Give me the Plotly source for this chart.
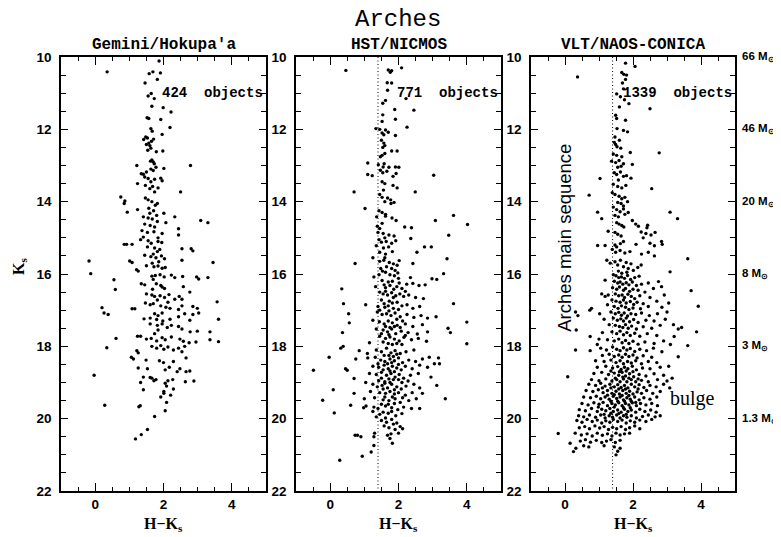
import plotly.graph_objects as go

# ---------------- data ----------------
panel_titles = ["Gemini/Hokupa'a", "HST/NICMOS", "VLT/NAOS-CONICA"]
object_counts = [424, 771, 1339]
x_ticks = [0, 2, 4]
y_ticks = [10, 12, 14, 16, 18, 20, 22]
mass_ks = [10, 12, 14, 16, 18, 20]
mass_labels = ["66", "46", "20", "8", "3", "1.3"]
sequence_cut_hk = 1.4

gemini_pts = [
(1.87,10.11),(0.35,10.41),(1.69,10.41),(1.58,10.46),(1.91,10.44),(1.82,10.62),(1.46,10.72),(1.64,11.01),(1.55,11.08),(1.73,11.15),
(1.66,11.36),(1.99,11.40),(2.22,11.52),(1.52,11.68),(1.57,11.70),(1.92,11.73),(2.19,11.95),(1.63,11.98),(1.67,12.05),(1.96,12.14),
(1.48,12.21),(1.42,12.28),(1.53,12.24),(1.57,12.38),(1.65,12.33),(1.71,12.27),(1.50,12.42),(1.60,12.45),(1.63,12.52),(1.54,12.58),
(1.79,12.62),(1.98,12.60),(1.66,12.85),(1.70,12.90),(1.73,12.95),(1.62,12.88),
(1.22,13.00),(2.79,13.00),(1.78,13.05),(1.63,13.10),(2.01,13.08),(1.70,13.14),(1.50,13.18),(1.35,13.23),(1.41,13.24),(1.45,13.32),
(1.55,13.36),(1.74,13.38),(1.92,13.35),(1.96,13.42),(1.63,13.45),(1.24,13.50),(1.47,13.55),(1.68,13.58),(1.84,13.62),(1.60,13.64),
(2.50,13.73),(1.74,13.73),
(0.75,13.87),(0.87,13.98),(0.85,14.05),(0.94,14.29),(1.24,14.22),(1.47,13.90),(1.55,13.95),(1.66,14.00),(1.82,14.05),(1.76,14.10),
(1.57,14.18),(1.71,14.25),(1.60,14.32),(1.80,14.38),(2.01,14.32),(1.41,14.42),(1.55,14.45),(1.67,14.48),(2.33,14.42),(3.09,14.52),(3.30,14.58),
(1.82,14.55),(2.07,14.58),(1.45,14.62),(1.61,14.66),(1.74,14.70),(2.44,14.75),(1.37,14.80),(1.53,14.85),(1.72,14.83),(1.96,14.88),
(2.44,14.92),(1.41,14.98),(1.84,15.00),(1.33,15.05),(1.55,15.08),(1.84,15.10),(1.95,15.13),(1.64,15.15),
(0.85,15.18),(0.92,15.18),(1.08,15.18),
(1.53,15.25),(1.74,15.28),(1.89,15.32),(1.82,15.38),(2.54,15.30),(2.81,15.30),(2.86,15.36),(1.45,15.48),(1.63,15.52),(1.78,15.55),
(1.94,15.50),(2.03,15.58),(1.70,15.45),(-0.18,15.64),(1.01,15.64),(1.08,15.68),(3.45,15.68),(2.54,15.62),
(1.50,15.77),(1.72,15.80),(1.84,15.78),(1.96,15.84),(2.05,15.82),(1.21,15.88),(1.26,15.92),(1.67,15.70),(1.86,15.66),(-0.13,15.99),
(1.66,16.06),(1.76,16.04),(1.90,16.02),(2.02,16.08),(2.23,16.03),(2.33,16.10),(2.56,16.07),(2.97,16.08),(3.30,16.10),(3.03,16.14),(1.70,16.15),
(0.55,16.16),(1.35,16.27),(1.45,16.30),(1.79,16.27),(1.92,16.32),(1.96,16.36),(2.03,16.40),(2.58,16.35),(1.68,16.42),(0.59,16.43),(2.77,16.50),
(1.50,16.55),(1.66,16.58),(1.74,16.62),(1.90,16.60),(2.03,16.65),(2.16,16.57),(2.33,16.70),(2.46,16.62),(2.54,16.70),(3.57,16.77),(1.82,16.72),
(1.47,16.80),(1.61,16.85),(1.70,16.82),(1.92,16.88),(2.07,16.92),(2.13,16.78),(2.19,16.95),(2.54,16.88),(2.44,16.98),(2.86,16.90),(2.99,16.95),
(0.20,16.93),(1.08,16.96),(1.16,16.96),
(0.26,17.08),(0.38,17.12),(1.74,17.10),(1.96,17.08),(1.84,17.15),(2.62,17.10),(2.86,17.12),(3.03,17.08),(2.44,17.18),
(1.43,17.24),(1.61,17.22),(1.80,17.26),(1.98,17.30),(2.19,17.25),(3.61,17.25),(2.77,17.28),
(1.61,17.38),(1.82,17.42),(1.96,17.38),(2.11,17.48),(2.23,17.42),(1.84,17.55),(2.44,17.45),(2.54,17.52),(2.78,17.60),(2.99,17.58),(3.36,17.60),(3.36,17.82),
(1.24,17.72),(1.33,17.72),(1.50,17.80),(1.64,17.78),(1.80,17.85),(1.96,17.76),(2.05,17.82),(2.23,17.74),(1.74,17.65),(0.61,17.78),
(2.48,17.80),(2.58,17.86),(2.75,17.90),(2.95,17.88),(3.61,17.87),(0.34,18.04),
(1.66,18.00),(1.80,18.05),(1.92,17.98),(2.01,18.08),(2.13,18.02),(2.29,18.10),(2.44,18.05),(2.54,18.15),(2.62,18.00),(1.22,18.12),(1.26,18.18),
(1.06,18.30),(1.12,18.35),(1.49,18.38),(1.88,18.40),(2.00,18.45),(2.29,18.42),(2.66,18.32),
(1.26,18.60),(1.53,18.62),(2.05,18.65),(2.17,18.58),(2.40,18.70),(2.48,18.62),(2.66,18.70),(2.77,18.68),(-0.03,18.80),
(1.41,18.85),(1.66,18.88),(1.72,18.95),(1.78,18.92),(2.05,19.02),(2.13,18.95),(2.27,18.92),(2.64,18.98),(2.89,18.96),(1.33,19.00),(1.61,18.86),
(1.41,19.20),(2.01,19.25),(2.09,19.10),(2.29,19.18),(1.92,19.40),(2.01,19.30),(2.21,19.35),(2.09,19.55),
(0.28,19.63),(1.28,19.67),(1.32,19.64),(2.05,19.78),(1.74,19.94),(1.53,20.30),(1.35,20.44),(1.18,20.56),
]

nicmos_pts = [
(0.46,10.37),(1.70,10.36),(1.80,10.38),(1.76,10.42),(2.09,10.30),(1.67,10.71),(1.80,10.72),(1.68,10.92),(2.22,11.15),(1.62,11.20),
(1.54,11.28),(1.89,11.45),(2.45,11.47),(1.54,11.60),(1.52,11.78),(1.91,11.72),(2.25,11.94),
(1.34,11.98),(1.45,12.00),(1.62,12.02),(1.52,12.10),(1.57,12.15),(1.70,12.08),(1.91,12.17),(1.50,12.30),(1.57,12.38),(1.60,12.45),
(1.54,12.50),(1.80,12.60),(1.96,12.60),(1.60,12.67),(1.52,12.72),(1.47,12.76),(1.10,12.93),(1.41,12.98),(1.55,13.04),(1.72,13.05),
(1.91,13.04),(2.01,13.05),(1.58,12.95),
(1.47,13.13),(1.54,13.20),(1.66,13.16),(1.10,13.25),(1.23,13.28),(1.93,13.22),(1.84,13.30),(3.03,13.27),(1.52,13.45),(1.60,13.50),
(1.84,13.55),(1.96,13.62),(1.56,13.68),(0.70,13.73),(2.49,13.73),(1.45,13.80),(1.52,13.88),(1.68,13.90),(1.77,13.95),(1.78,14.05),
(1.87,14.02),(1.60,14.00),(1.02,14.19),
(1.43,14.25),(1.52,14.30),(1.62,14.35),(1.36,14.42),(1.81,14.45),(1.93,14.52),(1.62,14.40),(1.52,14.60),(1.38,14.68),(1.45,14.74),
(3.61,14.38),(3.08,14.52),(4.02,14.63),(2.18,14.70),(2.38,14.72),(1.40,14.85),(1.55,14.88),(1.72,14.92),(1.87,14.95),(1.60,15.00),
(3.47,14.93),(2.36,15.02),
(1.43,15.05),(1.50,15.12),(1.64,15.10),(1.80,15.15),(1.92,15.08),(1.35,15.22),(1.56,15.28),(1.71,15.25),(2.76,15.25),(2.96,15.25),
(2.54,15.40),(1.45,15.40),(1.62,15.45),(1.82,15.38),(1.25,15.55),(1.60,15.55),(3.42,15.58),(0.73,15.71),(2.42,15.71),(1.45,15.65),
(1.57,15.62),(1.73,15.68),(1.85,15.72),(1.96,15.76),(2.02,15.63),(1.65,15.80),(1.80,15.85),(1.90,15.90),(1.53,15.92),(1.98,15.97),
(3.32,15.99),(1.28,16.08),(2.35,16.10),(1.43,16.02),
(2.98,16.13),(3.12,16.15),(1.52,16.18),(1.70,16.22),(1.82,16.20),(2.02,16.25),(2.24,16.28),(2.42,16.26),(2.60,16.32),(2.78,16.30),
(0.34,16.41),(1.33,16.35),(1.62,16.38),(1.86,16.42),(2.10,16.40),(1.45,16.50),(1.55,16.55),(1.68,16.58),(1.80,16.52),(1.92,16.60),
(2.04,16.55),(2.15,16.62),(2.30,16.58),(2.50,16.65),(2.73,16.68),(1.50,16.72),(1.73,16.75),(1.96,16.78),(0.39,16.82),(1.04,16.85),
(3.61,16.82),(1.40,16.90),(1.60,16.92),(1.85,16.95),(2.10,16.88),(2.42,16.95),(2.62,16.90),
(0.54,17.10),(1.38,17.05),(1.52,17.12),(1.65,17.10),(1.78,17.15),(1.90,17.08),(2.05,17.18),(2.25,17.12),(2.45,17.20),(2.66,17.15),
(2.85,17.22),(3.10,17.18),(0.56,17.35),(1.25,17.28),(1.44,17.32),(1.58,17.38),(1.70,17.30),(1.82,17.35),(1.96,17.42),(2.20,17.38),
(2.42,17.45),(2.70,17.40),(3.45,17.50),(4.00,17.33),(1.35,17.52),(1.55,17.55),(1.68,17.60),(1.80,17.52),(1.92,17.65),(2.08,17.58),
(2.28,17.62),(2.55,17.66),(2.85,17.60),(3.52,17.62),(0.36,17.62),(1.45,17.72),(1.62,17.78),(1.75,17.74),(1.88,17.80),(2.02,17.85),
(2.16,17.75),(2.38,17.82),(2.58,17.78),(2.82,17.86),(1.15,17.90),(0.31,18.05),(0.38,18.00),(4.00,17.93),
(0.85,18.12),(1.09,18.20),(1.35,18.10),(1.50,18.15),(1.65,18.05),(1.78,18.18),(1.90,18.12),(2.05,18.20),(2.22,18.15),(2.45,18.10),
(-0.03,18.30),(0.75,18.35),(1.10,18.32),(1.32,18.30),(1.48,18.38),(1.60,18.42),(1.75,18.35),(1.88,18.40),(2.00,18.32),(2.12,18.45),
(2.30,18.38),(2.50,18.42),(2.70,18.35),(2.90,18.30),(3.05,18.48),(3.17,18.32),(1.25,18.55),(1.42,18.58),(1.58,18.52),(1.70,18.62),
(1.82,18.55),(1.95,18.60),(2.08,18.65),(2.20,18.55),(2.40,18.62),(2.62,18.52),(2.85,18.58),(3.20,18.48),(-0.49,18.66),(0.45,18.62),
(0.50,18.66),(0.70,18.89),(1.15,18.75),(1.35,18.78),(1.50,18.72),(1.65,18.80),(1.78,18.75),(1.90,18.85),(2.02,18.78),(2.15,18.88),
(2.35,18.80),(2.58,18.75),(2.95,18.85),(1.42,18.95),(1.60,18.98),(1.85,18.92),(2.10,19.00),(2.28,18.96),
(1.04,19.00),(1.25,19.05),(1.38,19.12),(1.52,19.08),(1.68,19.15),(1.80,19.05),(1.95,19.12),(2.08,19.18),(2.22,19.10),(2.45,19.05),
(2.62,19.15),(3.12,19.08),(0.09,19.20),(1.18,19.25),(1.45,19.28),(1.62,19.30),(1.75,19.25),(1.88,19.32),(2.00,19.28),(2.20,19.35),
(2.40,19.28),(2.70,19.30),(0.70,19.30),(3.37,19.45),(-0.22,19.49),(1.00,19.45),(1.30,19.42),(1.55,19.48),(1.72,19.50),(1.90,19.45),
(2.05,19.55),(2.30,19.50),(2.52,19.45),(0.60,19.63),(0.98,19.70),(1.05,19.65),(1.28,19.68),(1.40,19.72),(1.62,19.65),(1.80,19.70),
(1.98,19.75),(2.15,19.68),(2.38,19.72),(2.62,19.72),(0.12,19.84),(1.25,19.80),(1.45,19.88),(1.70,19.85),(1.92,19.92),(2.10,19.86),(1.35,19.95),
(1.50,20.05),(1.65,20.10),(1.80,20.02),(1.95,20.12),(2.05,20.22),(1.72,20.25),(1.90,20.30),(2.12,20.28),(1.30,20.40),(0.73,20.46),
(0.80,20.46),(0.90,20.50),(1.28,20.50),(1.68,20.46),(1.78,20.42),(1.75,20.55),(1.82,20.68),(1.28,20.74),(1.20,20.92),(0.94,21.04),(0.28,21.15),
(1.48,15.85),(1.62,15.95),(1.75,16.02),(1.88,16.05),(2.00,16.12),(1.58,16.30),(1.75,16.32),(1.95,16.35),(2.20,16.48),(1.62,16.48),
(1.85,16.65),(1.58,16.82),(1.70,16.88),(1.82,16.80),(2.00,16.98),(2.25,16.85),(1.45,17.00),(1.72,17.02),(1.95,17.25),(2.12,17.30),
(1.62,17.45),(1.75,17.48),(1.88,17.45),(2.05,17.48),(1.50,17.65),(1.72,17.68),(2.20,17.70),(1.55,17.88),(1.70,17.92),(1.82,17.95),
(1.95,17.92),(2.10,17.95),(1.58,18.25),(1.72,18.25),(1.85,18.28),(1.95,18.22),(1.40,18.48),(1.68,18.48),(1.80,18.45),(2.00,18.50),
(1.55,18.65),(1.75,18.68),(1.88,18.70),(1.50,18.88),(1.72,18.90),(2.00,18.92),(1.60,19.02),(1.75,19.00),(1.88,19.20),(1.55,19.18),
(2.12,19.42),(1.82,19.40),(1.60,19.40),(1.50,19.60),(1.70,19.60),(1.88,19.58),(1.55,19.82),(1.80,19.80),(1.62,19.98),(1.85,20.15),
(1.58,20.20),(2.00,20.40),
]

naco_pts = [
(1.78,10.17),(2.06,10.26),(1.67,10.43),(1.73,10.48),(1.81,10.50),(0.37,10.55),(1.78,10.62),(1.69,10.72),(1.72,10.88),(1.52,11.02),
(1.63,11.10),(1.75,11.18),(1.88,11.29),(2.50,11.43),(1.60,11.38),(1.49,11.61),(1.52,11.70),(1.78,11.75),(1.53,11.98),(1.72,12.03),
(1.84,12.07),(1.47,12.21),(1.60,12.30),(1.45,12.36),(1.49,12.42),(1.53,12.48),(1.64,12.52),(2.77,12.65),(1.92,12.64),(1.42,12.68),
(1.52,12.72),(1.67,12.76),(1.37,12.88),(1.49,12.92),(1.59,12.86),(1.72,12.95),(1.55,13.05),(1.65,13.02),(1.98,12.97),
(1.45,13.20),(1.52,13.25),(1.63,13.18),(1.72,13.30),(1.81,13.28),(1.57,13.40),(1.94,13.35),(1.03,13.36),(1.42,13.52),(1.55,13.58),
(1.67,13.62),(1.79,13.55),(2.55,13.64),(0.71,13.82),(1.39,13.75),(1.47,13.80),(1.59,13.85),(1.67,13.92),(1.76,13.88),(1.55,14.02),
(1.65,14.05),(1.84,14.00),(1.72,14.12),
(1.42,14.15),(1.52,14.22),(1.62,14.28),(1.72,14.20),(1.76,14.35),(1.86,14.30),(1.47,14.38),(1.57,14.42),(0.96,14.29),(3.09,14.29),
(1.08,14.47),(3.31,14.47),(1.98,14.52),(1.52,14.58),(1.59,14.62),(1.67,14.66),(1.73,14.70),(2.16,14.68),(2.08,14.62),(2.41,14.72),
(2.43,14.65),(1.27,14.82),(1.47,14.85),(1.55,14.90),(1.65,14.95),(2.24,14.84),(2.38,14.88),(2.53,14.92),(2.65,14.85),(2.30,15.00),
(2.84,15.10),(2.86,15.18),(2.50,15.15),(2.63,15.22),(2.09,15.18),(1.72,15.10),(1.63,15.16),(1.47,15.20),(1.52,15.25),(0.96,15.21),
(1.18,15.21),(1.39,15.32),(1.49,15.40),(1.62,15.35),(1.76,15.42),(1.91,15.38),(2.25,15.45),(2.45,15.40),(2.63,15.50),(3.61,15.58),
(1.23,15.62),(1.33,15.70),(1.47,15.66),(1.55,15.75),(1.63,15.62),(1.72,15.80),(1.80,15.68),(1.86,15.85),(1.94,15.72),(2.01,15.90),
(2.14,15.82),(2.24,15.75),(1.57,15.92),(1.67,15.98),(1.82,15.95),(3.09,15.94),
(1.18,16.17),(2.75,16.21),(2.84,16.35),(3.71,16.46),(3.92,16.89),(1.08,16.55),(1.18,16.62),(1.27,16.58),
(1.42,16.02),(1.50,16.05),(1.58,16.10),(1.66,16.08),(1.75,16.12),(1.84,16.04),(1.93,16.15),(2.05,16.10),(2.18,16.06),(1.45,16.20),
(1.55,16.25),(1.62,16.22),(1.70,16.28),(1.80,16.24),(1.88,16.30),(1.98,16.22),(2.10,16.32),(2.25,16.28),(2.45,16.25),(1.40,16.38),
(1.52,16.42),(1.60,16.36),(1.72,16.45),(1.78,16.40),(1.90,16.48),(2.00,16.42),(2.15,16.45),(2.35,16.50),(2.60,16.40),(1.48,16.55),
(1.58,16.60),(1.68,16.58),(1.75,16.65),(1.85,16.56),(1.95,16.62),(2.05,16.68),(2.20,16.60),(2.50,16.65),(2.92,16.58),(1.38,16.72),
(1.50,16.75),(1.62,16.78),(1.72,16.72),(1.80,16.80),(1.92,16.76),(2.02,16.84),(2.12,16.78),(2.30,16.82),(2.70,16.75),(3.05,16.80),
(1.45,16.90),(1.56,16.95),(1.66,16.88),(1.78,16.92),(1.88,16.98),(2.00,16.94),(2.22,16.96),(2.45,16.90),(2.85,16.92),
(0.78,16.95),(0.31,17.05),(0.38,17.15),(0.73,17.00),(1.02,17.10),(1.15,17.25),(1.25,16.85),
(1.35,17.05),(1.48,17.10),(1.58,17.06),(1.66,17.14),(1.74,17.08),(1.84,17.16),(1.94,17.10),(2.08,17.12),(2.25,17.08),(2.48,17.15),
(2.72,17.10),(3.00,17.05),(1.42,17.22),(1.54,17.28),(1.64,17.24),(1.72,17.30),(1.80,17.22),(1.90,17.32),(2.02,17.26),(2.15,17.34),
(2.38,17.28),(2.62,17.30),(2.95,17.25),(3.19,17.40),(3.33,17.52),(3.43,17.48),(1.30,17.40),(1.48,17.42),(1.60,17.45),(1.70,17.48),
(1.78,17.40),(1.86,17.50),(1.96,17.44),(2.10,17.52),(2.30,17.46),(2.55,17.50),(2.80,17.42),(0.33,17.55),(0.74,17.73),(1.10,17.62),
(1.38,17.60),(1.52,17.65),(1.62,17.58),(1.72,17.68),(1.82,17.62),(1.92,17.70),(2.05,17.64),(2.20,17.72),(2.42,17.65),(2.70,17.70),
(3.21,17.73),(3.87,17.60),(1.00,17.80),(1.25,17.82),(1.45,17.85),(1.58,17.80),(1.68,17.90),(1.78,17.84),(1.88,17.92),(2.00,17.86),
(2.15,17.94),(2.35,17.88),(2.62,17.92),(2.90,17.85),(3.10,17.95),(3.61,17.98),(0.95,17.95),
(0.31,18.10),(0.74,18.12),(1.05,18.05),(1.22,18.10),(1.40,18.02),(1.52,18.08),(1.62,18.12),(1.72,18.04),(1.82,18.10),(1.92,18.06),
(2.05,18.14),(2.20,18.08),(2.40,18.12),(2.60,18.05),(2.85,18.15),(1.10,18.25),(1.30,18.22),(1.45,18.28),(1.58,18.24),(1.68,18.30),
(1.78,18.22),(1.88,18.28),(2.00,18.24),(2.12,18.32),(2.30,18.26),(2.55,18.30),(3.33,18.29),(0.90,18.40),(1.15,18.42),(1.35,18.38),
(1.50,18.45),(1.62,18.40),(1.72,18.48),(1.84,18.42),(1.95,18.46),(2.08,18.40),(2.25,18.48),(2.45,18.42),(2.70,18.45),(0.95,18.58),
(1.20,18.55),(1.40,18.60),(1.55,18.56),(1.65,18.64),(1.75,18.58),(1.85,18.62),(1.98,18.55),(2.10,18.65),(2.28,18.60),(2.50,18.62),
(2.80,18.58),(3.05,18.55),(0.08,18.84),(0.85,18.75),(1.08,18.72),(1.28,18.78),(1.45,18.74),(1.58,18.80),(1.68,18.72),(1.78,18.82),
(1.90,18.76),(2.02,18.84),(2.18,18.78),(2.38,18.82),(2.62,18.76),(2.90,18.80),(3.15,18.88),(0.78,18.92),(1.00,18.95),(1.20,18.90),
(1.38,18.96),(1.52,18.92),(1.62,18.98),(1.72,18.90),(1.82,18.98),(1.95,18.92),(2.08,18.98),(2.25,18.94),(2.45,18.98),(2.72,18.92),
(3.00,18.96),(1.35,18.68),(1.60,18.70),(1.70,18.85),(1.88,18.88),(1.80,18.68),(2.00,18.70),(1.48,18.88),(2.15,18.90),
(0.70,19.05),(0.90,19.08),(1.05,19.02),(1.18,19.10),(1.32,19.05),(1.45,19.12),(1.55,19.06),(1.65,19.14),(1.75,19.08),(1.85,19.15),
(1.95,19.05),(2.05,19.12),(2.18,19.06),(2.32,19.14),(2.50,19.08),(2.68,19.12),(2.90,19.05),(3.08,19.15),(0.62,19.22),(0.82,19.25),
(0.98,19.20),(1.12,19.28),(1.25,19.22),(1.38,19.30),(1.50,19.24),(1.60,19.32),(1.70,19.22),(1.80,19.30),(1.90,19.24),(2.00,19.32),
(2.12,19.26),(2.25,19.30),(2.40,19.22),(2.58,19.30),(2.80,19.25),(0.55,19.40),(0.75,19.42),(0.92,19.38),(1.05,19.45),(1.18,19.40),
(1.30,19.46),(1.42,19.38),(1.52,19.44),(1.62,19.40),(1.72,19.48),(1.82,19.42),(1.92,19.46),(2.05,19.40),(2.18,19.48),(2.32,19.42),
(2.50,19.46),(2.70,19.40),(0.50,19.58),(0.68,19.62),(0.85,19.56),(1.00,19.60),(1.12,19.55),(1.25,19.64),(1.38,19.58),(1.48,19.62),
(1.58,19.56),(1.68,19.64),(1.78,19.58),(1.88,19.62),(1.98,19.56),(2.10,19.64),(2.22,19.58),(2.38,19.62),(2.55,19.58),(2.72,19.64),
(0.42,19.75),(0.60,19.78),(0.78,19.72),(0.95,19.80),(1.08,19.74),(1.20,19.78),(1.32,19.72),(1.42,19.80),(1.55,19.76),(1.65,19.82),
(1.75,19.74),(1.85,19.80),(1.95,19.76),(2.08,19.82),(2.20,19.74),(2.35,19.80),(2.52,19.76),(2.68,19.82),(0.40,19.92),(0.55,19.95),
(0.72,19.90),(0.90,19.96),(1.05,19.90),(1.18,19.98),(1.30,19.92),(1.40,19.96),(1.52,19.90),(1.62,19.98),(1.72,19.92),(1.82,19.96),
(1.95,19.92),(2.10,19.98),(2.28,19.94),(2.45,19.90),(2.65,19.95),(2.80,19.92),
(1.35,19.15),(1.58,19.18),(1.78,19.18),(1.45,19.34),(1.68,19.36),(1.88,19.36),(1.35,19.52),(1.55,19.52),(1.75,19.52),(1.95,19.52),
(1.45,19.68),(1.72,19.70),(1.92,19.70),(1.35,19.85),(1.58,19.86),(1.80,19.88),(1.25,19.35),(1.10,19.15),(2.15,19.18),(2.08,19.55),
(1.15,19.88),(0.98,19.68),
(0.35,20.05),(0.50,20.10),(0.65,20.02),(0.80,20.08),(0.95,20.04),(1.08,20.12),(1.20,20.06),(1.32,20.10),(1.42,20.02),(1.55,20.08),
(1.68,20.04),(1.80,20.12),(1.92,20.06),(2.05,20.10),(2.20,20.04),(2.38,20.08),(2.55,20.02),(0.42,20.25),(0.58,20.22),(0.72,20.28),
(0.88,20.20),(1.02,20.26),(1.15,20.22),(1.28,20.30),(1.40,20.24),(1.52,20.28),(1.65,20.22),(1.78,20.30),(1.90,20.25),(2.05,20.20),
(2.20,20.28),(-0.20,20.41),(0.30,20.40),(0.48,20.45),(0.65,20.42),(0.80,20.48),(0.95,20.40),(1.10,20.46),(1.25,20.42),(1.38,20.48),
(1.50,20.40),(1.62,20.45),(1.75,20.42),(1.90,20.40),(0.15,20.68),(0.45,20.62),(0.60,20.58),(0.75,20.65),(0.92,20.60),(1.08,20.66),
(1.22,20.62),(1.35,20.58),(1.48,20.66),(1.62,20.60),(0.25,20.91),(0.32,20.82),(0.55,20.75),(0.70,20.78),(1.15,20.75),(1.45,20.78),
(1.55,20.90),(1.62,20.82),(1.50,21.00),
]

gemini_hk = [p[0] for p in gemini_pts]; gemini_ks = [p[1] for p in gemini_pts]
nicmos_hk = [p[0] for p in nicmos_pts]; nicmos_ks = [p[1] for p in nicmos_pts]
naco_hk = [p[0] for p in naco_pts]; naco_ks = [p[1] for p in naco_pts]

# ---------------- figure ----------------
# The page body has an 8px margin, so the figure is sized/margined to land on the reference pixels.
OFF = 8
W, H = 781 - OFF, 537 - OFF
ML, MT = 61 - OFF, 57 - OFF
MR = W - (735 - OFF)
MB = H - (491 - OFF)
PW, PH = W - ML - MR, H - MT - MB
domains = [[0.0, 205 / PW], [235 / PW, 440 / PW], [470 / PW, 1.0]]


def py(page_y):
    return (491 - page_y) / PH


def px(page_x):
    return (page_x - 61) / PW


fig = go.Figure()
series = [(gemini_hk, gemini_ks), (nicmos_hk, nicmos_ks), (naco_hk, naco_ks)]
for i, (hx, ky) in enumerate(series):
    sfx = "" if i == 0 else str(i + 1)
    fig.add_trace(go.Scatter(x=hx, y=ky, mode="markers", xaxis="x" + sfx, yaxis="y" + sfx,
                             marker=dict(size=3.4, color="black", line=dict(width=0)),
                             showlegend=False, hoverinfo="skip"))

tickfont = dict(family="Liberation Sans, Arial, sans-serif", size=13.5, color="black", weight="bold")
axis_common = dict(showline=True, linecolor="black", linewidth=1.6, mirror="allticks",
                   ticks="inside", tickcolor="black", tickwidth=1.3, showgrid=False, zeroline=False,
                   tickfont=tickfont, automargin=False)

layout = dict(width=W, height=H, margin=dict(l=ML, r=MR, t=MT, b=MB, autoexpand=False),
              paper_bgcolor="white", plot_bgcolor="white", showlegend=False)
for i in range(3):
    sfx = "" if i == 0 else str(i + 1)
    layout["xaxis" + sfx] = dict(axis_common, domain=domains[i], range=[-1, 5], anchor="y" + sfx,
                                 tickvals=x_ticks, ticklen=8,
                                 minor=dict(dtick=0.5, tick0=0, ticklen=4.5, ticks="inside",
                                            tickcolor="black", tickwidth=1.2, showgrid=False))
    layout["yaxis" + sfx] = dict(axis_common, domain=[0, 1], range=[22, 10], anchor="x" + sfx,
                                 tickvals=y_ticks, ticklen=7, ticklabelstandoff=5,
                                 minor=dict(dtick=0.5, tick0=10, ticklen=5, ticks="inside",
                                            tickcolor="black", tickwidth=1.2, showgrid=False))
fig.update_layout(**layout)

# dotted sequence cut in panels 2 and 3
for sfx in ["2", "3"]:
    fig.add_shape(type="line", xref="x" + sfx, yref="y" + sfx, x0=sequence_cut_hk, x1=sequence_cut_hk,
                  y0=10, y1=22, line=dict(color="black", width=1, dash="1px,2.5px"), layer="below")

mono = "Liberation Mono, Courier New, monospace"
serif = "Liberation Serif, Times New Roman, serif"
sans = "Liberation Sans, Arial, sans-serif"
ann = []
ann.append(dict(text="Arches", x=px(398), y=py(19), xref="paper", yref="paper", xanchor="center",
                yanchor="middle", showarrow=False, font=dict(family=mono, size=24, color="black")))
for i in range(3):
    sfx = "" if i == 0 else str(i + 1)
    ann.append(dict(text=panel_titles[i], x=0.5, xref="x%s domain" % sfx, y=py(45), yref="paper",
                    xanchor="center", yanchor="middle", showarrow=False,
                    font=dict(family=mono, size=16, color="black", weight="bold")))
    ann.append(dict(text="%d\u00a0\u00a0objects" % object_counts[i], x=4.98, y=11.0, xref="x" + sfx,
                    yref="y" + sfx, xanchor="right", yanchor="middle", showarrow=False,
                    font=dict(family=mono, size=14, color="black", weight="bold")))
    ann.append(dict(text="H\u2212K<sub>s</sub>", x=0.5, xref="x%s domain" % sfx, y=py(524), yref="paper",
                    xanchor="center", yanchor="middle", showarrow=False,
                    font=dict(family=serif, size=16, color="black", weight="bold")))
ann.append(dict(text="K<sub>s</sub>", x=px(19), y=py(267), xref="paper", yref="paper", textangle=-90,
                xanchor="center", yanchor="middle", showarrow=False,
                font=dict(family=serif, size=16, color="black", weight="bold")))
for ks, m in zip(mass_ks, mass_labels):
    ann.append(dict(text=m + " M<sub>\u2299</sub>", x=1, xref="x3 domain", y=ks, yref="y3",
                    xanchor="left", yanchor="middle", xshift=5, showarrow=False,
                    font=dict(family=sans, size=11.5, color="black", weight="bold")))
ann.append(dict(text="Arches main sequence", x=0.0, y=15.0, xref="x3", yref="y3", textangle=-90,
                xanchor="center", yanchor="middle", showarrow=False,
                font=dict(family=sans, size=18.5, color="black")))
ann.append(dict(text="bulge", x=3.75, y=19.45, xref="x3", yref="y3", xanchor="center", yanchor="middle",
                showarrow=False, font=dict(family=serif, size=20, color="black")))
fig.update_layout(annotations=ann)

fig.write_html("out.html")
